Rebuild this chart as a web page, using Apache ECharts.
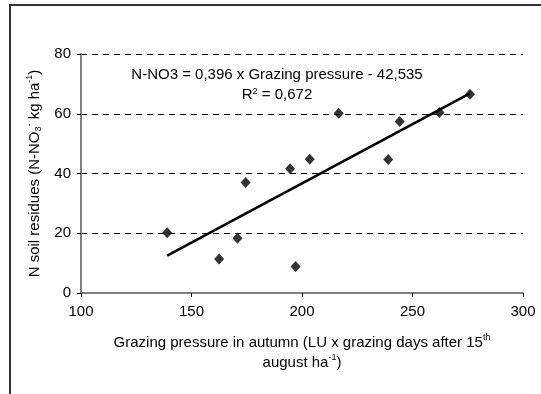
<!DOCTYPE html>
<html>
<head>
<meta charset="utf-8">
<script src="https://cdn.jsdelivr.net/npm/echarts@6/dist/echarts.min.js"></script>
<style>
html,body{margin:0;padding:0;background:#fff;}
#c{width:541px;height:394px;}
</style>
</head>
<body>
<div id="c"></div>
<script>
var grazingPressure = [139, 162.5, 170.8, 174.5, 194.6, 197.1, 203.5, 216.6, 239, 244.2, 262.2, 276];
var nResidues = [20.2, 11.4, 18.3, 37, 41.6, 8.9, 44.8, 60.2, 44.7, 57.4, 60.4, 66.5];
var trendX = [139, 276];
var trendY = [12.5, 66.8];
var xTicks = [100, 150, 200, 250, 300];
var yTicks = [0, 20, 40, 60, 80];
var equationText = 'N-NO3 = 0,396 x Grazing pressure - 42,535';
var r2Text = '0,672';

var chart = echarts.init(document.getElementById('c'), null, {renderer: 'canvas'});
var FONT = 'Liberation Sans, Arial, sans-serif';
var FS = 15;

var option = {
  backgroundColor: '#fff',
  animation: false,
  textStyle: {fontFamily: FONT},
  grid: {left: 81, right: 18, top: 54, bottom: 101, containLabel: false},
  xAxis: {
    type: 'value',
    min: xTicks[0], max: xTicks[xTicks.length - 1], interval: 50,
    axisLine: {show: true, onZero: false, lineStyle: {color: '#808080', width: 2}},
    axisTick: {show: true, length: 4, lineStyle: {color: '#000', width: 1}},
    axisLabel: {color: '#000', fontSize: FS, fontFamily: FONT, margin: 11},
    splitLine: {show: false},
    name: 'Grazing pressure in autumn (LU x grazing days after 15{sup|th}\naugust ha{sup|-1})',
    nameLocation: 'middle',
    nameGap: 40,
    nameTextStyle: {
      color: '#000', fontSize: FS, fontFamily: FONT, lineHeight: 20,
      rich: {sup: {fontSize: 9, fontFamily: FONT, color: '#000', verticalAlign: 'top', lineHeight: 17}}
    }
  },
  yAxis: {
    type: 'value',
    min: yTicks[0], max: yTicks[yTicks.length - 1], interval: 20,
    axisLine: {show: true, onZero: false, lineStyle: {color: '#808080', width: 2}},
    axisTick: {show: true, length: 4, lineStyle: {color: '#000', width: 1}},
    axisLabel: {color: '#000', fontSize: FS, fontFamily: FONT, margin: 10},
    splitLine: {show: true, lineStyle: {color: '#000', width: 1, type: [6, 5]}},
    name: 'N soil residues (N-NO{sub|3}{sup|-} kg ha{sup|-1})',
    nameLocation: 'middle',
    nameRotate: 90,
    nameGap: 36,
    nameTextStyle: {
      color: '#000', fontSize: FS, fontFamily: FONT, lineHeight: 18,
      rich: {
        sup: {fontSize: 9, fontFamily: FONT, color: '#000', verticalAlign: 'top', lineHeight: 15},
        sub: {fontSize: 9, fontFamily: FONT, color: '#000', verticalAlign: 'bottom', lineHeight: 14}
      }
    }
  },
  series: [
    {
      type: 'line',
      data: trendX.map(function (x, i) { return [x, trendY[i]]; }),
      showSymbol: false,
      symbol: 'none',
      lineStyle: {color: '#000', width: 2.6},
      z: 2
    },
    {
      type: 'scatter',
      data: grazingPressure.map(function (x, i) { return [x, nResidues[i]]; }),
      symbol: 'diamond',
      symbolSize: [10, 11],
      itemStyle: {color: '#000'},
      z: 3
    }
  ],
  graphic: [
    {
      type: 'rect',
      shape: {x: 10, y: 5, width: 700, height: 600},
      style: {fill: 'none', stroke: '#333', lineWidth: 2},
      silent: true
    },
    {
      type: 'text',
      x: 277, y: 75,
      style: {
        text: equationText,
        font: FS + 'px ' + FONT,
        fill: '#000',
        textAlign: 'center',
        textVerticalAlign: 'middle'
      }
    },
    {
      type: 'text',
      x: 277, y: 95,
      style: {
        text: 'R{sup|2} = ' + r2Text,
        font: FS + 'px ' + FONT,
        fill: '#000',
        textAlign: 'center',
        textVerticalAlign: 'middle',
        rich: {sup: {fontSize: 9, fontFamily: FONT, fill: '#000', verticalAlign: 'top', lineHeight: 15}}
      }
    }
  ]
};
chart.setOption(option);
</script>
</body>
</html>
